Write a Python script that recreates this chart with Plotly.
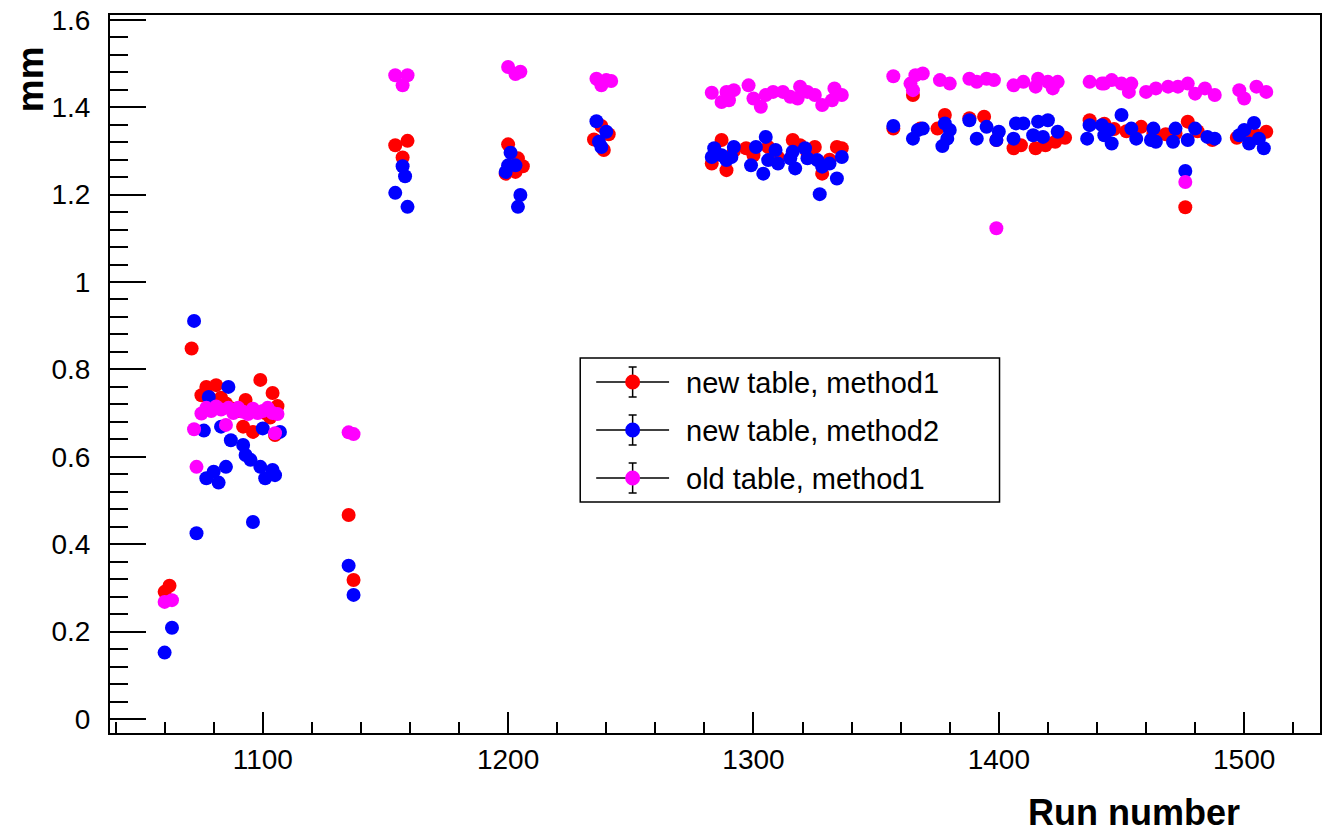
import plotly.graph_objects as go

# ---------------- data ----------------
runs_new_m1 = [1060, 1062, 1071, 1075, 1077, 1078, 1081, 1083, 1085, 1088, 1090, 1092, 1093, 1095, 1096, 1099, 1101, 1103, 1104, 1105, 1106,
               1135, 1137,
               1154, 1157, 1159,
               1199, 1200, 1203, 1204, 1206,
               1235, 1238, 1239, 1241,
               1283, 1287, 1289, 1292, 1297, 1300, 1306, 1310, 1316, 1319, 1322, 1325, 1328, 1331, 1334, 1336,
               1357, 1365, 1368, 1375, 1378, 1388, 1394, 1399, 1406, 1409, 1415, 1419, 1423, 1427, 1437,
               1443, 1447, 1452, 1458, 1463, 1468, 1472, 1476, 1477, 1481, 1487,
               1497, 1501, 1505, 1509]
vals_new_m1 = [0.291, 0.305, 0.848, 0.741, 0.760, 0.737, 0.764, 0.735, 0.722, 0.710, 0.705, 0.669, 0.730, 0.705, 0.657, 0.776, 0.700, 0.690, 0.746, 0.650, 0.716,
               0.467, 0.318,
               1.313, 1.285, 1.323,
               1.248, 1.315, 1.252, 1.283, 1.265,
               1.326, 1.357, 1.302, 1.338,
               1.271, 1.325, 1.256, 1.300, 1.306, 1.290, 1.309, 1.285, 1.325, 1.313, 1.295, 1.309, 1.248, 1.280, 1.309, 1.306,
               1.351, 1.428, 1.351, 1.351, 1.382, 1.375, 1.378, 1.325, 1.306, 1.313, 1.306, 1.313, 1.321, 1.330, 1.370,
               1.362, 1.350, 1.345, 1.355, 1.340, 1.338, 1.340, 1.171, 1.367, 1.345, 1.325,
               1.330, 1.340, 1.335, 1.344]

runs_new_m2 = [1060, 1063, 1072, 1073, 1076, 1077, 1078, 1080, 1082, 1083, 1085, 1086, 1087, 1092, 1093, 1095, 1096, 1099, 1100, 1101, 1104, 1105, 1107,
               1135, 1137,
               1154, 1157, 1158, 1159,
               1199, 1200, 1201, 1203, 1204, 1205,
               1236, 1237, 1238, 1240,
               1283, 1284, 1287, 1289, 1291, 1292, 1299, 1301, 1304, 1305, 1306, 1309, 1310, 1315, 1316, 1317, 1321, 1322, 1326, 1327, 1328, 1331, 1334, 1336,
               1357, 1365, 1367, 1369, 1377, 1378, 1379, 1380, 1388, 1391, 1395, 1399, 1400, 1406, 1407, 1410, 1414, 1416, 1418, 1420, 1424, 1436, 1437, 1442,
               1443, 1445, 1446, 1450, 1454, 1456, 1462, 1463, 1464, 1471, 1472, 1476, 1477, 1480, 1485, 1488,
               1498, 1500, 1502, 1504, 1506, 1508]
vals_new_m2 = [0.152, 0.209, 0.911, 0.425, 0.660, 0.551, 0.737, 0.566, 0.541, 0.669, 0.577, 0.760, 0.638, 0.627, 0.604, 0.593, 0.451, 0.577, 0.665, 0.551, 0.570, 0.558, 0.657,
               0.351, 0.284,
               1.204, 1.265, 1.242, 1.172,
               1.252, 1.267, 1.296, 1.267, 1.172, 1.199,
               1.368, 1.321, 1.309, 1.344,
               1.286, 1.306, 1.290, 1.279, 1.286, 1.309, 1.267, 1.309, 1.248, 1.332, 1.279, 1.302, 1.271, 1.283, 1.298, 1.260, 1.306, 1.283, 1.279, 1.201, 1.264, 1.271, 1.237, 1.286,
               1.357, 1.328, 1.348, 1.351, 1.311, 1.363, 1.328, 1.348, 1.370, 1.328, 1.355, 1.325, 1.344, 1.328, 1.363, 1.363, 1.336, 1.367, 1.332, 1.370, 1.344, 1.328, 1.359, 1.359,
               1.336, 1.348, 1.317, 1.382, 1.351, 1.328, 1.325, 1.351, 1.321, 1.321, 1.351, 1.254, 1.325, 1.351, 1.332, 1.328,
               1.336, 1.348, 1.317, 1.364, 1.328, 1.306]

runs_old_m1 = [1060, 1063, 1072, 1073, 1075, 1077, 1079, 1081, 1083, 1085, 1086, 1088, 1090, 1092, 1094, 1096, 1098, 1100, 1102, 1104, 1105, 1106,
               1135, 1137,
               1154, 1157, 1159,
               1200, 1203, 1205,
               1236, 1238, 1240, 1242,
               1283, 1287, 1289, 1290, 1292, 1298, 1300, 1303, 1305, 1308, 1312, 1315, 1318, 1319, 1322, 1325, 1328, 1332, 1333, 1336,
               1357, 1364, 1365, 1366, 1369, 1376, 1380, 1388, 1391, 1395, 1398, 1399, 1406, 1410, 1415, 1416, 1420, 1422, 1424, 1437, 1442,
               1443, 1446, 1450, 1453, 1454, 1460, 1464, 1469, 1473, 1476, 1477, 1480, 1484, 1488,
               1498, 1500, 1505, 1509]
vals_old_m1 = [0.268, 0.272, 0.663, 0.577, 0.699, 0.712, 0.705, 0.715, 0.708, 0.673, 0.712, 0.700, 0.712, 0.703, 0.698, 0.710, 0.700, 0.705, 0.712, 0.700, 0.654, 0.698,
               0.656, 0.652,
               1.473, 1.450, 1.473,
               1.492, 1.476, 1.481,
               1.465, 1.450, 1.462, 1.460,
               1.433, 1.412, 1.435, 1.416, 1.439, 1.450, 1.420, 1.401, 1.428, 1.435, 1.435, 1.424, 1.420, 1.447, 1.435, 1.428, 1.405, 1.416, 1.443, 1.428,
               1.471, 1.454, 1.439, 1.473, 1.477, 1.462, 1.454, 1.465, 1.458, 1.465, 1.462, 1.123, 1.450, 1.458, 1.447, 1.465, 1.458, 1.443, 1.458, 1.458, 1.454,
               1.454, 1.462, 1.454, 1.435, 1.454, 1.435, 1.443, 1.447, 1.447, 1.229, 1.454, 1.431, 1.443, 1.428,
               1.439, 1.420, 1.447, 1.435]

series_names = ["new table, method1", "new table, method2", "old table, method1"]
series_colors = ["#ff0000", "#0000ff", "#ff00ff"]

x_tick_vals = [1100, 1200, 1300, 1400, 1500]
y_tick_vals = [0, 0.2, 0.4, 0.6, 0.8, 1.0, 1.2, 1.4, 1.6]

FONT = "Liberation Sans, Arial, Helvetica, sans-serif"

# ---------------- figure ----------------
W, H = 1326, 836
ML, MR, MT, MB = 110, 4, 15, 103
PW, PH = W - ML - MR, H - MT - MB

fig = go.Figure()
for runs, vals, name, col in zip([runs_new_m1, runs_new_m2, runs_old_m1],
                                 [vals_new_m1, vals_new_m2, vals_old_m1],
                                 series_names, series_colors):
    fig.add_trace(go.Scatter(x=runs, y=vals, mode="markers", name=name,
                             marker=dict(color=col, size=14, line=dict(width=0)),
                             showlegend=False))

def px(x):
    return (x - ML) / PW

def py(y):
    return (MT + PH - y) / PH

shapes = []
annotations = []
# legend box
shapes.append(dict(type="rect", xref="paper", yref="paper",
                   x0=px(581), x1=px(1001), y0=py(502), y1=py(358),
                   line=dict(color="black", width=1.5), fillcolor="white", layer="above"))
rows = [382, 430, 478]
for ry, name, col in zip(rows, series_names, series_colors):
    shapes.append(dict(type="line", xref="paper", yref="paper",
                       x0=px(597), x1=px(670), y0=py(ry), y1=py(ry),
                       line=dict(color="black", width=1.5)))
    shapes.append(dict(type="line", xref="paper", yref="paper",
                       x0=px(633.5), x1=px(633.5), y0=py(ry - 15), y1=py(ry + 15),
                       line=dict(color="black", width=1.5)))
    for cy in (ry - 15, ry + 15):
        shapes.append(dict(type="line", xref="paper", yref="paper",
                           x0=px(629.5), x1=px(637.5), y0=py(cy), y1=py(cy),
                           line=dict(color="black", width=1.5)))
    shapes.append(dict(type="circle", xref="paper", yref="paper",
                       xsizemode="pixel", ysizemode="pixel",
                       xanchor=px(633.5), yanchor=py(ry),
                       x0=-7.5, x1=7.5, y0=-7.5, y1=7.5,
                       fillcolor=col, line=dict(width=0)))
    annotations.append(dict(text=name, xref="paper", yref="paper",
                            x=px(685), y=py(ry + 1), xanchor="left", yanchor="middle",
                            showarrow=False, font=dict(family=FONT, size=29, color="black")))

# axis titles
annotations.append(dict(text="<b>Run number</b>", xref="paper", yref="paper",
                        x=px(1244), y=py(812), xanchor="right", yanchor="middle",
                        showarrow=False, font=dict(family=FONT, size=36, color="black")))
annotations.append(dict(text="<b>mm</b>", xref="paper", yref="paper",
                        x=px(30), y=py(79), xanchor="center", yanchor="middle",
                        textangle=-90,
                        showarrow=False, font=dict(family=FONT, size=37, color="black")))

fig.update_layout(
    width=W, height=H, autosize=False,
    margin=dict(l=ML, r=MR, t=MT, b=MB, pad=0),
    paper_bgcolor="white", plot_bgcolor="white",
    showlegend=False,
    shapes=shapes, annotations=annotations,
    font=dict(family=FONT, size=28, color="black"),
)
fig.update_xaxes(range=[1037.74, 1530.9], showgrid=False, zeroline=False,
                 showline=True, linecolor="black", linewidth=2, mirror=True,
                 ticks="inside", ticklen=21, tickwidth=1.5, tickcolor="black",
                 tickvals=x_tick_vals, ticktext=[str(v) for v in x_tick_vals],
                 tickfont=dict(family=FONT, size=28, color="black"),
                 minor=dict(dtick=20, tick0=1000, ticks="inside", ticklen=11,
                            tickwidth=1.5, tickcolor="black", showgrid=False))
fig.update_yaxes(range=[-0.032, 1.611], showgrid=False, zeroline=False,
                 showline=True, linecolor="black", linewidth=2, mirror=True,
                 ticks="inside", ticklen=36, tickwidth=1.5, tickcolor="black",
                 tickvals=y_tick_vals, ticktext=["0", "0.2", "0.4", "0.6", "0.8", "1", "1.2", "1.4", "1.6"],
                 tickfont=dict(family=FONT, size=28, color="black"),
                 ticklabelstandoff=12,
                 minor=dict(dtick=0.04, tick0=0, ticks="inside", ticklen=18,
                            tickwidth=1.5, tickcolor="black", showgrid=False))

fig.write_html("out.html", config={"displayModeBar": False})
